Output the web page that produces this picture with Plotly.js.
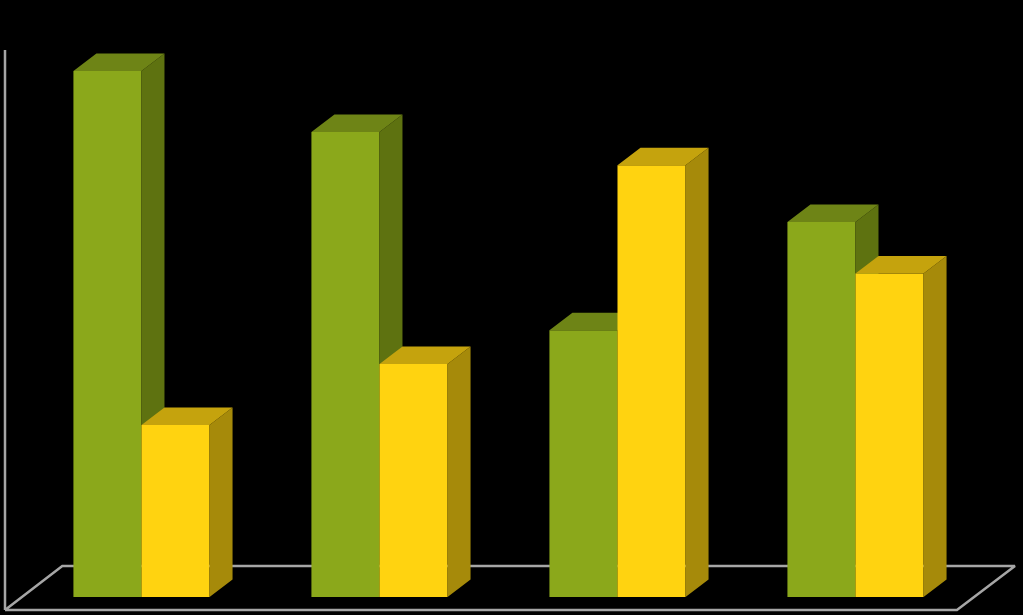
<!DOCTYPE html>
<html>
<head>
<meta charset="utf-8">
<script src="https://cdn.plot.ly/plotly-3.0.1.min.js"></script>
<style>html,body{margin:0;padding:0;background:#000;overflow:hidden}#chart{width:1023px;height:615px}</style>
</head>
<body>
<div id="chart"></div>
<script>
// Data (no labels are shown in the reference; scale is relative, tallest bar = 100)
const categories = [0, 1, 2, 3];
const greenValues = [100, 88.4, 50.7, 71.3];
const yellowValues = [32.7, 44.3, 82.1, 61.5];

// Pseudo-3D geometry, in axis units
const barWidth = 0.286;
const depthX = 0.0966;
const depthY = 3.33;
const xRange = [-0.5945, 3.7038];
const yRange = [-3.42, 113.5];

// Colours
const greenFront = '#8BA81B', greenSide = '#5E7210', greenTop = '#6E8416';
const yellowFront = '#FFD310', yellowSide = '#A68A0A', yellowTop = '#C5A30D';
const frameColor = '#A6A6A6';

function sidePoly(vals, offset) {
  const x = [], y = [];
  vals.forEach((v, i) => {
    const r = categories[i] + offset + barWidth;
    x.push(r, r + depthX, r + depthX, r, r, null);
    y.push(0, depthY, v + depthY, v, 0, null);
  });
  return {x, y};
}
function topPoly(vals, offset) {
  const x = [], y = [];
  vals.forEach((v, i) => {
    const l = categories[i] + offset, r = l + barWidth;
    x.push(l, l + depthX, r + depthX, r, l, null);
    y.push(v, v + depthY, v + depthY, v, v, null);
  });
  return {x, y};
}
function face(p, color, xa, ya) {
  return {type: 'scatter', mode: 'lines', x: p.x, y: p.y, fill: 'toself', fillcolor: color,
    line: {width: 0, color: color}, hoverinfo: 'skip', showlegend: false, xaxis: xa, yaxis: ya};
}
function front(vals, offset, color, xa, ya) {
  return {type: 'bar', x: categories, y: vals, width: barWidth, offset: offset,
    marker: {color: color, line: {width: 0}}, hoverinfo: 'skip', showlegend: false, xaxis: xa, yaxis: ya};
}

// Floor and wall, in axis units
const wallX = [-0.5735, -0.5735];
const wallY = [-2.47, 104];
const floorX = [-0.5735, -0.3328, 3.670, 3.4262, -0.5735];
const floorY = [-2.47, 5.9, 5.9, -2.47, -2.47];

const traces = [
  {type: 'scatter', mode: 'lines', x: wallX, y: wallY, line: {color: frameColor, width: 2.5},
    hoverinfo: 'skip', showlegend: false, xaxis: 'x', yaxis: 'y'},
  {type: 'scatter', mode: 'lines', x: floorX, y: floorY, line: {color: frameColor, width: 2.5},
    hoverinfo: 'skip', showlegend: false, xaxis: 'x', yaxis: 'y'},
  front(greenValues, -barWidth, greenFront, 'x2', 'y2'),
  face(sidePoly(greenValues, -barWidth), greenSide, 'x2', 'y2'),
  face(topPoly(greenValues, -barWidth), greenTop, 'x2', 'y2'),
  front(yellowValues, 0, yellowFront, 'x3', 'y3'),
  face(sidePoly(yellowValues, 0), yellowSide, 'x3', 'y3'),
  face(topPoly(yellowValues, 0), yellowTop, 'x3', 'y3')
];

const hiddenX = {range: xRange, visible: false, fixedrange: true};
const hiddenY = {range: yRange, visible: false, fixedrange: true};
const layout = {
  width: 1023, height: 615,
  margin: {l: 0, r: 0, t: 0, b: 0},
  paper_bgcolor: '#000', plot_bgcolor: '#000',
  barmode: 'overlay', showlegend: false,
  xaxis: {...hiddenX, domain: [0, 1]},
  yaxis: {...hiddenY, domain: [0, 1]},
  xaxis2: {...hiddenX, overlaying: 'x'},
  yaxis2: {...hiddenY, overlaying: 'y'},
  xaxis3: {...hiddenX, overlaying: 'x'},
  yaxis3: {...hiddenY, overlaying: 'y'}
};
Plotly.newPlot('chart', traces, layout, {displayModeBar: false, staticPlot: true});
</script>
</body>
</html>
